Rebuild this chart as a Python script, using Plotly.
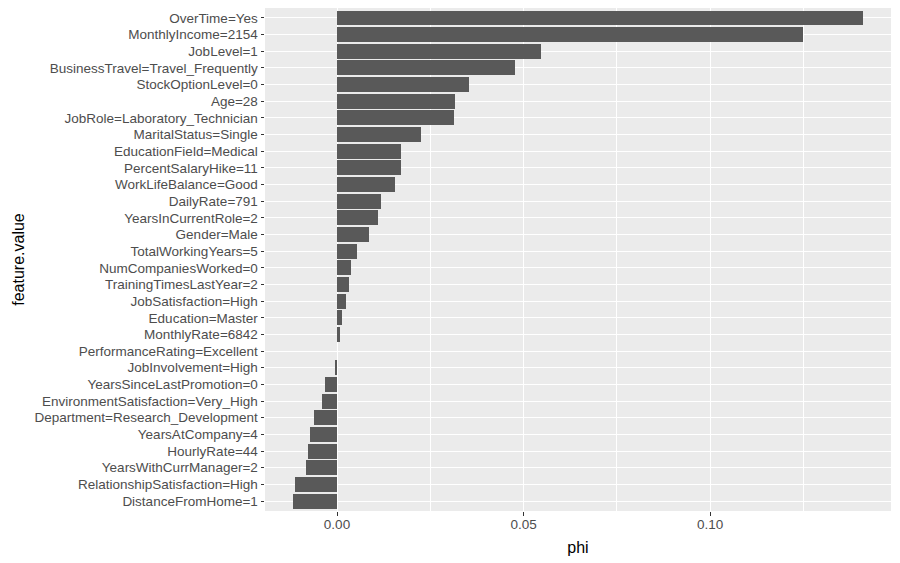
import plotly.graph_objects as go

features = [
    "OverTime=Yes", "MonthlyIncome=2154", "JobLevel=1",
    "BusinessTravel=Travel_Frequently", "StockOptionLevel=0", "Age=28",
    "JobRole=Laboratory_Technician", "MaritalStatus=Single",
    "EducationField=Medical", "PercentSalaryHike=11", "WorkLifeBalance=Good",
    "DailyRate=791", "YearsInCurrentRole=2", "Gender=Male",
    "TotalWorkingYears=5", "NumCompaniesWorked=0", "TrainingTimesLastYear=2",
    "JobSatisfaction=High", "Education=Master", "MonthlyRate=6842",
    "PerformanceRating=Excellent", "JobInvolvement=High",
    "YearsSinceLastPromotion=0", "EnvironmentSatisfaction=Very_High",
    "Department=Research_Development", "YearsAtCompany=4", "HourlyRate=44",
    "YearsWithCurrManager=2", "RelationshipSatisfaction=High",
    "DistanceFromHome=1",
]
phi = [
    0.1409, 0.1248, 0.0546, 0.0477, 0.0355, 0.0316, 0.0313, 0.0224,
    0.0171, 0.0171, 0.0155, 0.0117, 0.0109, 0.0085, 0.0054, 0.0037,
    0.0032, 0.0024, 0.0013, 0.0008, 0.0, -0.0003, -0.0033, -0.0041,
    -0.0062, -0.0073, -0.0078, -0.0083, -0.0113, -0.0117,
]
x_ticks = [0.0, 0.05, 0.10]

FONT = "Arial, Liberation Sans, sans-serif"

fig = go.Figure(go.Bar(
    x=phi, y=features, orientation="h", width=0.9,
    marker=dict(color="#595959", line=dict(width=0)),
))

cat_order = list(reversed(features))
fig.update_layout(
    width=892, height=555,
    margin=dict(l=257, r=9, t=0, b=52),
    paper_bgcolor="white", plot_bgcolor="#EBEBEB",
    showlegend=False,
    font=dict(family=FONT),
    xaxis=dict(
        range=[-0.0193, 0.1485],
        tickvals=x_ticks, tickformat=".2f",
        showgrid=True, gridcolor="white", gridwidth=1.1,
        minor=dict(dtick=0.025, tick0=0, showgrid=True,
                   gridcolor="white", gridwidth=0.55),
        zeroline=False, showline=False,
        ticks="outside", ticklen=3.5, tickwidth=1.1, tickcolor="#333333",
        tickfont=dict(size=13.5, color="#4D4D4D", family=FONT),
        ticklabelstandoff=-3,
        title=dict(text="phi", font=dict(size=16, color="black", family=FONT),
                   standoff=11),
        automargin=False,
    ),
    yaxis=dict(
        type="category", categoryorder="array", categoryarray=cat_order,
        tickmode="array", tickvals=features, ticktext=features,
        range=[-0.6, len(features) - 0.4],
        showgrid=True, gridcolor="white", gridwidth=1.1,
        zeroline=False, showline=False,
        ticks="outside", ticklen=3.5, tickwidth=1.1, tickcolor="#333333",
        tickfont=dict(size=13.5, color="#4D4D4D", family=FONT),
        title=dict(text="feature.value",
                   font=dict(size=16, color="black", family=FONT), standoff=5),
        automargin=False,
    ),
    bargap=0,
)

fig.write_html("out.html")
